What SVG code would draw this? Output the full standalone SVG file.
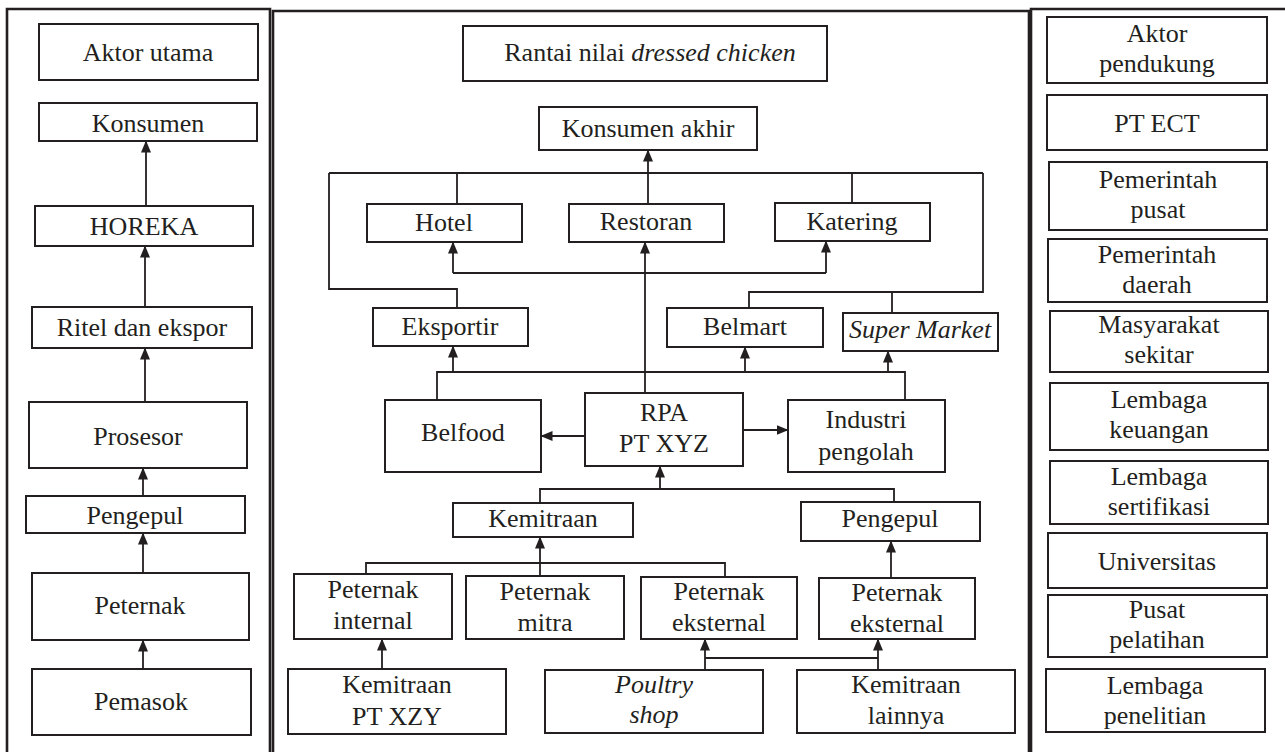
<svg xmlns="http://www.w3.org/2000/svg" width="1285" height="752" viewBox="0 0 1285 752">
<style>
.bx{fill:#fff;stroke:#231f20;stroke-width:2}
.fr{fill:none;stroke:#231f20;stroke-width:2.6}
.ln{fill:none;stroke:#231f20;stroke-width:1.8}
.ar{fill:none;stroke:#231f20;stroke-width:1.8;marker-end:url(#ah)}
.tx{font-family:'Liberation Serif','Times New Roman','DejaVu Serif',serif;font-size:26px;fill:#231f20;text-anchor:middle}
.it{font-style:italic}
</style>
<defs>
<marker id="ah" markerUnits="userSpaceOnUse" markerWidth="12" markerHeight="10" refX="11.5" refY="5" orient="auto">
<path d="M0,0 L12,5 L0,10 z" fill="#231f20"/>
</marker>
</defs>
<rect width="1285" height="752" fill="#fff"/>
<g id="frames">
<path class="fr" d="M7,752 V9 H270 V752"/>
<path class="fr" d="M273,752 V11 H1029 V752"/>
<path class="fr" d="M1031,752 V9 H1285"/>
</g>
<g id="connectors">
<line class="ar" x1="146" y1="206" x2="146" y2="141"/>
<line class="ar" x1="145" y1="307" x2="145" y2="246"/>
<line class="ar" x1="145" y1="402" x2="145" y2="348"/>
<line class="ar" x1="143" y1="496" x2="143" y2="468"/>
<line class="ar" x1="143" y1="573" x2="143" y2="533"/>
<line class="ar" x1="143" y1="669" x2="143" y2="640"/>
<path class="ln" d="M329,173 H983"/>
<path class="ln" d="M329,173 V289 H457 V308"/>
<path class="ln" d="M457,173 V204"/>
<line class="ar" x1="648" y1="204" x2="648" y2="150"/>
<path class="ln" d="M852,173 V203"/>
<path class="ln" d="M983,173 V292 H749 V308"/>
<path class="ln" d="M892,292 V313"/>
<path class="ln" d="M453,273 H826"/>
<line class="ar" x1="453" y1="273" x2="453" y2="242"/>
<line class="ar" x1="826" y1="273" x2="826" y2="241"/>
<line class="ar" x1="645" y1="393" x2="645" y2="242"/>
<path class="ln" d="M437,400 V372 H905 V400"/>
<line class="ar" x1="453" y1="372" x2="453" y2="346"/>
<line class="ar" x1="745" y1="372" x2="745" y2="347"/>
<line class="ar" x1="888" y1="372" x2="888" y2="351"/>
<line class="ar" x1="585" y1="436" x2="541" y2="436"/>
<line class="ar" x1="743" y1="430" x2="788" y2="430"/>
<path class="ln" d="M540,503 V489 H894 V502"/>
<line class="ar" x1="660" y1="489" x2="660" y2="466"/>
<path class="ln" d="M366,574 V563 H725 V577"/>
<path class="ln" d="M540,576 V563"/>
<line class="ar" x1="540" y1="563" x2="540" y2="537"/>
<line class="ar" x1="891" y1="578" x2="891" y2="541"/>
<line class="ar" x1="382" y1="669" x2="382" y2="639"/>
<line class="ar" x1="705" y1="670" x2="705" y2="639"/>
<path class="ln" d="M705,658 H878"/>
<line class="ar" x1="878" y1="670" x2="878" y2="639"/>
</g>
<g class="tx">
<g id="aktor-utama"><rect class="bx" x="39" y="24" width="219" height="56"/><text x="148" y="61">Aktor utama</text></g>
<g id="konsumen"><rect class="bx" x="39" y="103" width="218" height="38"/><text x="148" y="132">Konsumen</text></g>
<g id="horeka"><rect class="bx" x="35" y="206" width="218" height="40"/><text x="144" y="235">HOREKA</text></g>
<g id="ritel"><rect class="bx" x="32" y="307" width="220" height="41"/><text x="142" y="336">Ritel dan ekspor</text></g>
<g id="prosesor"><rect class="bx" x="29" y="402" width="218" height="66"/><text x="138" y="445">Prosesor</text></g>
<g id="pengepul-l"><rect class="bx" x="26" y="496" width="219" height="37"/><text x="135" y="524">Pengepul</text></g>
<g id="peternak-l"><rect class="bx" x="32" y="573" width="217" height="67"/><text x="140" y="614">Peternak</text></g>
<g id="pemasok"><rect class="bx" x="32" y="669" width="219" height="66"/><text x="141" y="710">Pemasok</text></g>
<g id="title"><rect class="bx" x="463" y="26" width="364" height="55"/><text x="650" y="61">Rantai nilai <tspan class="it">dressed chicken</tspan></text></g>
<g id="konsumen-akhir"><rect class="bx" x="539" y="107" width="218" height="43"/><text x="648" y="137">Konsumen akhir</text></g>
<g id="hotel"><rect class="bx" x="367" y="204" width="155" height="38"/><text x="444" y="231">Hotel</text></g>
<g id="restoran"><rect class="bx" x="569" y="204" width="155" height="38"/><text x="646" y="230">Restoran</text></g>
<g id="katering"><rect class="bx" x="775" y="203" width="155" height="38"/><text x="852" y="230">Katering</text></g>
<g id="eksportir"><rect class="bx" x="373" y="308" width="155" height="38"/><text x="450" y="335">Eksportir</text></g>
<g id="belmart"><rect class="bx" x="667" y="308" width="156" height="39"/><text x="745" y="335">Belmart</text></g>
<g id="super-market"><rect class="bx" x="843" y="313" width="155" height="38"/><text class="it" x="920" y="338">Super Market</text></g>
<g id="belfood"><rect class="bx" x="385" y="400" width="156" height="72"/><text x="463" y="441">Belfood</text></g>
<g id="rpa"><rect class="bx" x="585" y="393" width="158" height="73"/><text x="664" y="421">RPA</text><text x="664" y="452">PT XYZ</text></g>
<g id="industri"><rect class="bx" x="788" y="400" width="157" height="72"/><text x="866" y="428">Industri</text><text x="866" y="460">pengolah</text></g>
<g id="kemitraan"><rect class="bx" x="453" y="503" width="180" height="34"/><text x="543" y="527">Kemitraan</text></g>
<g id="pengepul-m"><rect class="bx" x="801" y="502" width="179" height="39"/><text x="890" y="527">Pengepul</text></g>
<g id="peternak-internal"><rect class="bx" x="294" y="574" width="158" height="65"/><text x="373" y="598">Peternak</text><text x="373" y="629">internal</text></g>
<g id="peternak-mitra"><rect class="bx" x="466" y="576" width="158" height="63"/><text x="545" y="600">Peternak</text><text x="545" y="631">mitra</text></g>
<g id="peternak-eksternal-1"><rect class="bx" x="641" y="577" width="156" height="62"/><text x="719" y="600">Peternak</text><text x="719" y="631">eksternal</text></g>
<g id="peternak-eksternal-2"><rect class="bx" x="819" y="578" width="156" height="61"/><text x="897" y="601">Peternak</text><text x="897" y="632">eksternal</text></g>
<g id="kemitraan-ptxzy"><rect class="bx" x="288" y="669" width="218" height="65"/><text x="397" y="693">Kemitraan</text><text x="397" y="725">PT XZY</text></g>
<g id="poultry-shop"><rect class="bx" x="545" y="670" width="218" height="63"/><text class="it" x="654" y="693">Poultry</text><text class="it" x="654" y="723">shop</text></g>
<g id="kemitraan-lainnya"><rect class="bx" x="797" y="670" width="218" height="63"/><text x="906" y="693">Kemitraan</text><text x="906" y="724">lainnya</text></g>
<g id="aktor-pendukung"><rect class="bx" x="1047" y="17" width="220" height="66"/><text x="1157" y="42">Aktor</text><text x="1157" y="72">pendukung</text></g>
<g id="pt-ect"><rect class="bx" x="1047" y="95" width="220" height="55"/><text x="1157" y="132">PT ECT</text></g>
<g id="pemerintah-pusat"><rect class="bx" x="1049" y="162" width="218" height="68"/><text x="1158" y="188">Pemerintah</text><text x="1158" y="218">pusat</text></g>
<g id="pemerintah-daerah"><rect class="bx" x="1048" y="239" width="219" height="63"/><text x="1157" y="263">Pemerintah</text><text x="1157" y="293">daerah</text></g>
<g id="masyarakat"><rect class="bx" x="1050" y="311" width="218" height="61"/><text x="1159" y="333">Masyarakat</text><text x="1159" y="363">sekitar</text></g>
<g id="lembaga-keuangan"><rect class="bx" x="1050" y="383" width="218" height="67"/><text x="1159" y="408">Lembaga</text><text x="1159" y="438">keuangan</text></g>
<g id="lembaga-sertifikasi"><rect class="bx" x="1050" y="461" width="218" height="63"/><text x="1159" y="485">Lembaga</text><text x="1159" y="515">sertifikasi</text></g>
<g id="universitas"><rect class="bx" x="1048" y="533" width="219" height="55"/><text x="1157" y="570">Universitas</text></g>
<g id="pusat-pelatihan"><rect class="bx" x="1048" y="595" width="219" height="62"/><text x="1157" y="618">Pusat</text><text x="1157" y="648">pelatihan</text></g>
<g id="lembaga-penelitian"><rect class="bx" x="1046" y="669" width="219" height="63"/><text x="1155" y="694">Lembaga</text><text x="1155" y="724">penelitian</text></g>
</g>
</svg>
